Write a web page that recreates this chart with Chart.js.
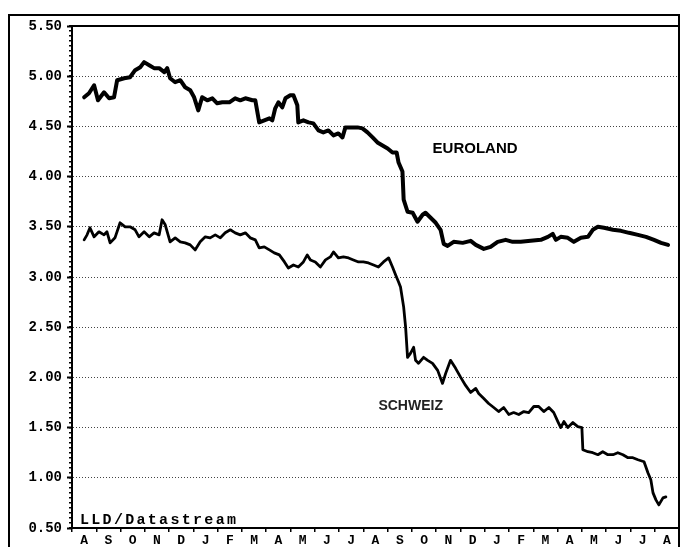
<!DOCTYPE html>
<html>
<head>
<meta charset="utf-8">
<script src="https://cdn.jsdelivr.net/npm/chart.js@4/dist/chart.umd.min.js"></script>
<style>
html,body{margin:0;padding:0;background:#fff;}
#wrap{position:relative;width:688px;height:547px;overflow:hidden;}
canvas{display:block;}
</style>
</head>
<body>
<div id="wrap"><canvas id="c" width="688" height="547"></canvas></div>
<script>
// ---- data (months counted from start of first August) ----
const monthLabels = ['A','S','O','N','D','J','F','M','A','M','J','J','A','S','O','N','D','J','F','M','A','M','J','J','A'];
const yTickValues = [0.5,1.0,1.5,2.0,2.5,3.0,3.5,4.0,4.5,5.0,5.5];
const yTickLabels = ['0.50','1.00','1.50','2.00','2.50','3.00','3.50','4.00','4.50','5.00','5.50'];
const seriesNames = ['EUROLAND','SCHWEIZ'];
const sourceNote = 'LLD/Datastream';

const euroMonths = [0.50,0.70,0.91,1.07,1.32,1.53,1.73,1.86,2.15,2.39,
  2.60,2.81,2.97,3.18,3.38,3.59,3.80,3.92,4.04,4.25,
  4.46,4.66,4.87,5.03,5.20,5.36,5.57,5.78,5.98,6.19,
  6.48,6.72,6.93,7.14,7.43,7.55,7.71,7.92,8.13,8.25,
  8.37,8.50,8.66,8.79,8.99,9.12,9.28,9.32,9.53,9.74,
  9.94,10.15,10.35,10.56,10.77,10.97,11.14,11.26,11.47,11.76,
  11.96,12.17,12.38,12.58,12.79,13.00,13.20,13.37,13.45,13.61,
  13.66,13.82,14.03,14.23,14.44,14.56,14.77,14.98,15.18,15.31,
  15.47,15.72,16.09,16.42,16.63,16.96,17.24,17.53,17.86,18.15,
  18.48,18.89,19.31,19.60,19.80,19.93,20.13,20.42,20.67,20.96,
  21.25,21.45,21.66,21.91,22.28,22.61,22.94,23.31,23.64,23.97,
  24.26,24.55];
const euroValues = [4.79,4.83,4.91,4.76,4.84,4.78,4.79,4.96,4.98,4.99,
  5.06,5.09,5.14,5.11,5.08,5.08,5.04,5.08,4.98,4.94,
  4.96,4.89,4.86,4.79,4.66,4.79,4.76,4.78,4.73,4.74,
  4.74,4.78,4.76,4.78,4.76,4.76,4.54,4.56,4.58,4.56,
  4.68,4.74,4.69,4.78,4.81,4.81,4.71,4.54,4.56,4.54,
  4.53,4.46,4.44,4.46,4.41,4.43,4.39,4.49,4.49,4.49,
  4.48,4.44,4.39,4.34,4.31,4.28,4.24,4.24,4.14,4.05,
  3.77,3.65,3.64,3.55,3.62,3.64,3.59,3.54,3.47,3.33,
  3.31,3.35,3.34,3.36,3.32,3.28,3.30,3.35,3.37,3.35,
  3.35,3.36,3.37,3.40,3.43,3.37,3.40,3.39,3.35,3.39,
  3.40,3.47,3.50,3.49,3.47,3.46,3.44,3.42,3.40,3.37,
  3.34,3.32];

const swissMonths = [0.50,0.62,0.74,0.91,1.11,1.32,1.44,1.57,1.77,1.98,
  2.19,2.39,2.60,2.76,2.97,3.18,3.38,3.59,3.71,3.84,
  4.04,4.25,4.46,4.66,4.87,5.07,5.28,5.49,5.69,5.90,
  6.11,6.31,6.52,6.72,6.93,7.14,7.34,7.55,7.71,7.92,
  8.13,8.33,8.54,8.75,8.91,9.12,9.32,9.53,9.69,9.82,
  10.02,10.23,10.44,10.64,10.77,10.97,11.18,11.39,11.59,11.80,
  12.00,12.21,12.42,12.62,12.83,13.04,13.20,13.33,13.45,13.53,
  13.66,13.74,13.82,13.94,14.07,14.15,14.27,14.48,14.65,14.85,
  15.06,15.26,15.39,15.59,15.80,16.01,16.21,16.42,16.63,16.75,
  16.96,17.16,17.37,17.57,17.78,17.99,18.19,18.40,18.61,18.81,
  19.02,19.22,19.43,19.64,19.84,20.01,20.13,20.26,20.42,20.63,
  20.83,21.00,21.04,21.25,21.45,21.66,21.86,22.07,22.28,22.48,
  22.69,22.90,23.10,23.31,23.56,23.72,23.84,23.93,24.05,24.17,
  24.34,24.46];
const swissValues = [3.37,3.42,3.49,3.40,3.45,3.42,3.45,3.34,3.39,3.54,
  3.50,3.50,3.47,3.40,3.45,3.40,3.44,3.42,3.57,3.52,
  3.35,3.39,3.35,3.34,3.32,3.27,3.35,3.40,3.39,3.42,
  3.39,3.44,3.47,3.44,3.42,3.44,3.39,3.37,3.29,3.30,
  3.27,3.24,3.22,3.15,3.09,3.12,3.10,3.15,3.22,3.17,
  3.15,3.10,3.17,3.20,3.25,3.19,3.20,3.19,3.17,3.15,
  3.15,3.14,3.12,3.10,3.15,3.19,3.10,3.02,2.95,2.90,
  2.70,2.50,2.20,2.24,2.30,2.17,2.14,2.20,2.17,2.14,
  2.07,1.94,2.04,2.17,2.09,2.00,1.92,1.85,1.89,1.84,
  1.79,1.74,1.70,1.66,1.70,1.63,1.65,1.63,1.66,1.65,
  1.71,1.71,1.66,1.70,1.65,1.56,1.50,1.56,1.50,1.55,
  1.51,1.50,1.28,1.26,1.25,1.23,1.26,1.23,1.23,1.25,
  1.23,1.20,1.20,1.18,1.16,1.05,0.98,0.85,0.78,0.73,
  0.80,0.81];

// label anchors in data units (month, value)
const labelAnchors = {
  euro: {x: 14.85, y: 4.235},
  swiss: {x: 12.62, y: 1.675},
  source: {x: 0.33, y: 0.54}
};

const toPoints = (xs, ys) => xs.map((m, i) => ({x: m, y: ys[i]}));

const MONO = "'Liberation Mono', 'DejaVu Sans Mono', monospace";
const SANS = "'Liberation Sans', Arial, sans-serif";

const framePlugin = {
  id: 'frame',
  afterDraw(chart) {
    const {ctx, chartArea} = chart;
    ctx.save();
    ctx.strokeStyle = '#000';
    ctx.lineWidth = 2;
    ctx.beginPath();
    ctx.moveTo(9, 547); ctx.lineTo(9, 15); ctx.lineTo(chartArea.right, 15); ctx.lineTo(chartArea.right, 547);
    ctx.moveTo(chartArea.left, chartArea.top); ctx.lineTo(chartArea.right, chartArea.top);
    ctx.stroke();
    ctx.restore();
  }
};

const textPlugin = {
  id: 'texts',
  afterDatasetsDraw(chart) {
    const {ctx, scales} = chart;
    const xs = scales.x, ys = scales.y;
    ctx.save();
    ctx.textBaseline = 'alphabetic';
    ctx.textAlign = 'left';
    ctx.fillStyle = '#000';
    ctx.font = "bold 15px " + SANS;
    ctx.fillText(seriesNames[0], xs.getPixelForValue(labelAnchors.euro.x), ys.getPixelForValue(labelAnchors.euro.y));
    ctx.fillStyle = '#222';
    ctx.font = "bold 14px " + SANS;
    ctx.fillText(seriesNames[1], xs.getPixelForValue(labelAnchors.swiss.x), ys.getPixelForValue(labelAnchors.swiss.y));
    ctx.fillStyle = '#000';
    ctx.font = "bold 15px " + MONO;
    if ('letterSpacing' in ctx) ctx.letterSpacing = '2.3px';
    ctx.fillText(sourceNote, xs.getPixelForValue(labelAnchors.source.x), ys.getPixelForValue(labelAnchors.source.y));
    ctx.restore();
  }
};

new Chart(document.getElementById('c'), {
  type: 'line',
  data: {
    datasets: [
      {label: seriesNames[0], data: toPoints(euroMonths, euroValues), xAxisID: 'x', yAxisID: 'y',
       borderColor: '#000', borderWidth: 4, pointRadius: 0, tension: 0, borderJoinStyle: 'round', borderCapStyle: 'round', fill: false},
      {label: seriesNames[1], data: toPoints(swissMonths, swissValues), xAxisID: 'x', yAxisID: 'y',
       borderColor: '#000', borderWidth: 2.8, pointRadius: 0, tension: 0, borderJoinStyle: 'round', borderCapStyle: 'round', fill: false}
    ]
  },
  options: {
    responsive: false,
    animation: false,
    events: [],
    layout: {padding: {left: 0, top: 26, right: 9, bottom: 0}},
    plugins: {legend: {display: false}, tooltip: {enabled: false}},
    scales: {
      x: {
        type: 'linear', position: 'bottom', weight: 1, min: 0, max: monthLabels.length,
        afterBuildTicks: s => { s.ticks = monthLabels.map((_, i) => ({value: i + 0.5})); },
        afterFit: s => { s.height = 19; },
        ticks: {autoSkip: false, maxRotation: 0, minRotation: 0, padding: 5, color: '#000',
                font: {family: MONO, weight: 'bold', size: 13},
                callback: (v, i) => monthLabels[i]},
        grid: {display: false, drawTicks: false},
        border: {display: true, color: '#000', width: 2}
      },
      xTicks: {
        type: 'linear', position: 'bottom', weight: 0, min: 0, max: monthLabels.length,
        afterBuildTicks: s => { s.ticks = monthLabels.concat(['']).map((_, i) => ({value: i})); },
        afterFit: s => { s.height = 0; },
        ticks: {display: false},
        grid: {display: true, drawOnChartArea: false, drawTicks: true, tickLength: 4, color: '#000', lineWidth: 1.5, tickBorderDash: []},
        border: {display: false}
      },
      y: {
        type: 'linear', position: 'left', weight: 1, min: 0.5, max: 5.5,
        afterBuildTicks: s => { s.ticks = yTickValues.map(v => ({value: v})); },
        afterFit: s => { s.width = 72; },
        ticks: {autoSkip: false, padding: 5, color: '#000',
                font: {family: MONO, weight: 'bold', size: 14},
                callback: (v, i) => yTickLabels[i]},
        grid: {display: true, drawOnChartArea: true, drawTicks: true, tickLength: 5,
               lineWidth: 1,
               color: c => (c.tick && (c.tick.value <= 0.5 || c.tick.value >= 5.5)) ? 'rgba(0,0,0,0)' : '#444',
               tickColor: '#000', tickWidth: 2, tickBorderDash: []},
        border: {display: true, color: '#000', width: 2, dash: [1, 2]}
      },
      yMinor: {
        type: 'linear', position: 'left', weight: 0, min: 0.5, max: 5.5,
        afterBuildTicks: s => { const t = []; for (let i = 0; i <= 100; i++) t.push({value: Math.round((0.5 + i * 0.05) * 100) / 100}); s.ticks = t; },
        afterFit: s => { s.width = 0; },
        ticks: {display: false},
        grid: {display: true, drawOnChartArea: false, drawTicks: true, tickLength: 3, color: '#000', lineWidth: 1.5, tickBorderDash: []},
        border: {display: false}
      }
    }
  },
  plugins: [framePlugin, textPlugin]
});
</script>
</body>
</html>
